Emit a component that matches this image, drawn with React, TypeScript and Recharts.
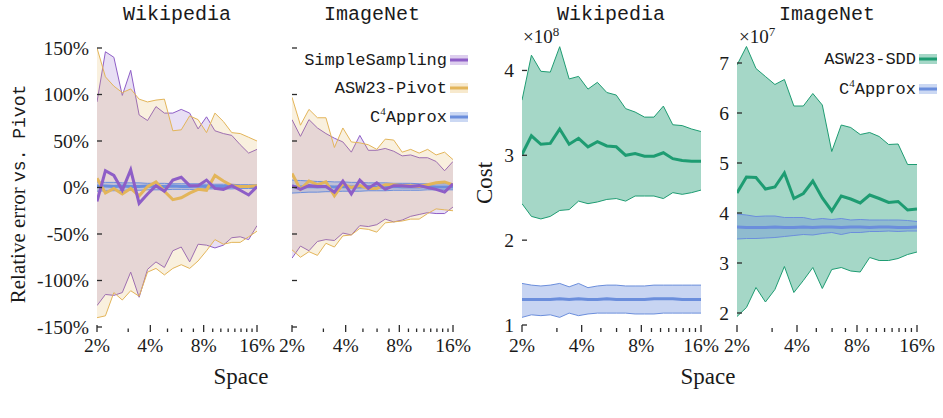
import React from 'react';
import { ComposedChart, Area, Line, XAxis, YAxis } from 'recharts';

// ---------- data ----------
const SPACE = [2.0, 2.231, 2.49, 2.778, 3.099, 3.458, 3.858, 4.304, 4.802, 5.358, 5.977, 6.669, 7.441, 8.302, 9.262, 10.334, 11.529, 12.863, 14.351, 16.0];
const X_TICKS = [2, 3, 4, 5, 6, 7, 8, 9, 10, 11, 12, 13, 14, 15, 16];
const X_LABELED = [2, 4, 8, 16];
const REL_TICKS = [-150, -100, -50, 0, 50, 100, 150];
const WIKI_COST_TICKS = [1, 2, 3, 4];
const IMNET_COST_TICKS = [2, 3, 4, 5, 6, 7];

// Wikipedia, relative error vs. Pivot (%)
const WIKI_SS_MEAN = [-15, 18, 13, -3, 19, -17, -7, 2, -4, 8, 11, 2, 2, 8, -1, -2, 2, -3, -8, 1];
const WIKI_SS_LO = [-127, -115, -116, -113, -91, -118, -88, -80, -86, -68, -64, -80, -61, -62, -65, -62, -54, -53, -56, -41];
const WIKI_SS_HI = [92, 146, 140, 99, 126, 78, 72, 87, 80, 80, 84, 80, 63, 76, 61, 58, 56, 46, 37, 41];
const WIKI_PV_MEAN = [10, -6, -1, -7, -1, -9, 1, 6, -4, -13, -11, -6, -2, -3, 13, 7, 2, 1, 1, 2];
const WIKI_PV_LO = [-140, -138, -113, -121, -111, -117, -91, -87, -94, -87, -83, -87, -79, -68, -56, -61, -59, -59, -53, -47];
const WIKI_PV_HI = [150, 119, 109, 102, 106, 95, 92, 94, 95, 61, 62, 77, 73, 59, 80, 71, 59, 58, 54, 50];
const WIKI_C4_MEAN = [1.5, 1.5, 1, 1.5, 1, 1, 1.5, 1, 1, 1.5, 1, 1, 1.5, 1, 1, 1, 1.5, 1, 1, 1];
const WIKI_C4_LO = [-4, -3.5, -3.5, -3, -3, -3, -2.5, -2.5, -2.5, -2, -2, -2, -2, -1.5, -1.5, -1.5, -1.5, -1, -1, -1];
const WIKI_C4_HI = [6, 5.5, 5.5, 5, 5, 5, 4.5, 4.5, 4.5, 4, 4, 4, 4, 3.5, 3.5, 3.5, 3.5, 3, 3, 3];

// ImageNet, relative error vs. Pivot (%)
const IMNET_SS_MEAN = [2, -2, 2, 1, 1, -5, 7, -7, 8, -1, 5, -2, 2, 2, 1, 2, 0, -2, -5, 4];
const IMNET_SS_LO = [-76, -63, -68, -58, -56, -57, -49, -51, -41, -42, -40, -34, -37, -35, -31, -29, -27, -28, -28, -21];
const IMNET_SS_HI = [73, 55, 73, 64, 58, 53, 49, 38, 56, 40, 40, 42, 39, 34, 35, 32, 32, 28, 18, 28];
const IMNET_PV_MEAN = [15, -2, 7, 3, 6, -9, 4, 0, 2, -1, -1, 3, 3, 2, 2, 1, 3, 5, 6, 3];
const IMNET_PV_LO = [-67, -75, -69, -73, -60, -64, -52, -51, -44, -45, -48, -38, -37, -36, -34, -34, -28, -23, -24, -25];
const IMNET_PV_HI = [97, 67, 84, 75, 75, 43, 64, 49, 48, 46, 41, 52, 51, 38, 41, 37, 41, 35, 38, 30];
const IMNET_C4_MEAN = [1, 0.5, 1, 0.5, 1, 0.5, 1, 0.5, 0.5, 1, 0.5, 0.5, 1, 0.5, 0.5, 0.5, 1, 0.5, 0.5, 0.5];
const IMNET_C4_LO = [-6, -5.5, -5, -5, -4.5, -4.5, -4, -4, -4, -3.5, -3.5, -3.5, -3, -3, -3, -3, -2.5, -2.5, -2.5, -2.5];
const IMNET_C4_HI = [8, 7.5, 7, 6.5, 6.5, 6, 6, 5.5, 5.5, 5, 5, 5, 4.5, 4.5, 4.5, 4, 4, 4, 4, 4];

// Wikipedia cost (x1e8)
const WIKI_SDD_MEAN = [3.01, 3.23, 3.13, 3.14, 3.31, 3.13, 3.2, 3.1, 3.16, 3.11, 3.1, 3.0, 3.02, 2.99, 2.99, 3.03, 2.96, 2.94, 2.93, 2.93];
const WIKI_SDD_LO = [2.43, 2.28, 2.25, 2.28, 2.35, 2.36, 2.46, 2.43, 2.45, 2.48, 2.49, 2.46, 2.52, 2.52, 2.52, 2.49, 2.56, 2.54, 2.56, 2.59];
const WIKI_SDD_HI = [3.65, 4.18, 3.99, 3.98, 4.28, 3.9, 3.93, 3.78, 3.86, 3.74, 3.71, 3.55, 3.51, 3.45, 3.45, 3.58, 3.36, 3.35, 3.31, 3.28];
const WIKI_C4C_MEAN = [1.3, 1.3, 1.3, 1.3, 1.31, 1.3, 1.31, 1.3, 1.3, 1.31, 1.3, 1.3, 1.3, 1.3, 1.31, 1.31, 1.31, 1.3, 1.3, 1.3];
const WIKI_C4C_LO = [1.09, 1.12, 1.11, 1.12, 1.09, 1.14, 1.11, 1.13, 1.14, 1.14, 1.14, 1.14, 1.13, 1.13, 1.13, 1.14, 1.14, 1.14, 1.14, 1.14];
const WIKI_C4C_HI = [1.49, 1.47, 1.46, 1.47, 1.49, 1.45, 1.49, 1.44, 1.46, 1.47, 1.47, 1.46, 1.46, 1.46, 1.47, 1.47, 1.47, 1.47, 1.47, 1.47];

// ImageNet cost (x1e7)
const IMNET_SDD_MEAN = [4.4, 4.72, 4.71, 4.48, 4.52, 4.8, 4.29, 4.39, 4.64, 4.3, 4.04, 4.34, 4.28, 4.2, 4.36, 4.29, 4.21, 4.23, 4.06, 4.08];
const IMNET_SDD_LO = [1.93, 2.11, 2.51, 2.22, 2.47, 2.93, 2.41, 2.65, 2.91, 2.49, 2.87, 2.91, 2.84, 2.82, 3.11, 3.05, 3.05, 3.09, 3.17, 3.22];
const IMNET_SDD_HI = [6.96, 7.33, 6.89, 6.73, 6.57, 6.67, 6.14, 6.14, 6.39, 6.16, 5.23, 5.76, 5.71, 5.57, 5.61, 5.53, 5.37, 5.38, 4.97, 4.97];
const IMNET_C4C_MEAN = [3.72, 3.71, 3.71, 3.71, 3.72, 3.71, 3.71, 3.72, 3.71, 3.72, 3.72, 3.71, 3.72, 3.72, 3.71, 3.72, 3.72, 3.71, 3.71, 3.72];
const IMNET_C4C_LO = [3.48, 3.49, 3.49, 3.5, 3.51, 3.53, 3.55, 3.57, 3.56, 3.59, 3.61, 3.57, 3.61, 3.61, 3.63, 3.63, 3.64, 3.63, 3.64, 3.64];
const IMNET_C4C_HI = [3.98, 3.96, 3.93, 3.94, 3.94, 3.91, 3.91, 3.91, 3.87, 3.89, 3.87, 3.89, 3.86, 3.87, 3.86, 3.86, 3.86, 3.86, 3.85, 3.83];

// ---------- styles ----------
const PURPLE = '#8e5ec7';
const GOLD = '#e3b55a';
const BLUE = '#6b8edc';
const GREEN = '#1e9c72';
const SERIF = "'Liberation Serif', 'DejaVu Serif', serif";
const MONO = "'Liberation Mono', 'DejaVu Sans Mono', monospace";
const TICK = '#2b2b2b';
const TXT = '#1a1a1a';

type Row = { [k: string]: any };

function relRows(ssM: number[], ssL: number[], ssH: number[], pvM: number[], pvL: number[], pvH: number[], c4M: number[], c4L: number[], c4H: number[]): Row[] {
  return SPACE.map((x, i) => ({
    x,
    ss: ssM[i], ssBand: [ssL[i], ssH[i]],
    pv: pvM[i], pvBand: [pvL[i], pvH[i]],
    c4: c4M[i], c4Band: [c4L[i], c4H[i]],
  }));
}

function costRows(sM: number[], sL: number[], sH: number[], cM: number[], cL: number[], cH: number[]): Row[] {
  return SPACE.map((x, i) => ({
    x,
    sdd: sM[i], sddBand: [sL[i], sH[i]],
    c4: cM[i], c4Band: [cL[i], cH[i]],
  }));
}

const wikiRel = relRows(WIKI_SS_MEAN, WIKI_SS_LO, WIKI_SS_HI, WIKI_PV_MEAN, WIKI_PV_LO, WIKI_PV_HI, WIKI_C4_MEAN, WIKI_C4_LO, WIKI_C4_HI);
const imnetRel = relRows(IMNET_SS_MEAN, IMNET_SS_LO, IMNET_SS_HI, IMNET_PV_MEAN, IMNET_PV_LO, IMNET_PV_HI, IMNET_C4_MEAN, IMNET_C4_LO, IMNET_C4_HI);
const wikiCost = costRows(WIKI_SDD_MEAN, WIKI_SDD_LO, WIKI_SDD_HI, WIKI_C4C_MEAN, WIKI_C4C_LO, WIKI_C4C_HI);
const imnetCost = costRows(IMNET_SDD_MEAN, IMNET_SDD_LO, IMNET_SDD_HI, IMNET_C4C_MEAN, IMNET_C4C_LO, IMNET_C4C_HI);

// ---------- ticks ----------
function makeXTick(majTop: number, minTop: number, bottom: number, labelDy: number) {
  return (props: any) => {
    const { x, y, payload } = props;
    const v = payload.value;
    const major = X_LABELED.includes(v);
    return (
      <g>
        <line x1={x} x2={x} y1={y + (major ? majTop : minTop)} y2={y + bottom} stroke={TICK} strokeWidth={1.3} />
        {major && (
          <text x={x} y={y + labelDy} textAnchor="middle" fontFamily={SERIF} fontSize={19.5} fill={TXT}>{`${v}%`}</text>
        )}
      </g>
    );
  };
}

function makeYTick(fmt: ((v: number) => string) | null) {
  return (props: any) => {
    const { x, y, payload } = props;
    return (
      <g>
        <line x1={x} x2={x + 5} y1={y} y2={y} stroke={TICK} strokeWidth={1.3} />
        {fmt && (
          <text x={x - 8} y={y + 6.5} textAnchor="end" fontFamily={SERIF} fontSize={19.5} fill={TXT}>{fmt(payload.value)}</text>
        )}
      </g>
    );
  };
}

const pct = (v: number) => `${v}%`;
const num = (v: number) => `${v}`;

function xAxisEl(tick: any) {
  return (
    <XAxis dataKey="x" type="number" scale="log" domain={[2, 16]} allowDataOverflow ticks={X_TICKS} interval={0}
      tick={tick} tickLine={false} axisLine={false} tickSize={0} tickMargin={0} height={30} />
  );
}

function RelPanel({ data, left, yWidth, width, mRight, labels }: any) {
  return (
    <div style={{ position: 'absolute', left, top: 0 }}>
      <ComposedChart width={width} height={418} data={data} margin={{ top: 48, right: mRight, bottom: 61, left: 0 }}>
        {xAxisEl(makeXTick(-2, 1.5, 5, 25))}
        <YAxis type="number" domain={[-150, 150]} ticks={REL_TICKS} interval={0} width={yWidth}
          tick={makeYTick(labels ? pct : null)} tickLine={false} axisLine={false} tickSize={0} tickMargin={0} />
        <Area type="linear" dataKey="ssBand" stroke={PURPLE} strokeWidth={1} fill={PURPLE} fillOpacity={0.2} isAnimationActive={false} dot={false} activeDot={false} />
        <Area type="linear" dataKey="pvBand" stroke={GOLD} strokeWidth={1} fill={GOLD} fillOpacity={0.2} isAnimationActive={false} dot={false} activeDot={false} />
        <Area type="linear" dataKey="c4Band" stroke={BLUE} strokeWidth={1} fill={BLUE} fillOpacity={0.3} isAnimationActive={false} dot={false} activeDot={false} />
        <Line type="linear" dataKey="c4" stroke={BLUE} strokeWidth={3} dot={false} activeDot={false} isAnimationActive={false} />
        <Line type="linear" dataKey="pv" stroke={GOLD} strokeWidth={3} dot={false} activeDot={false} isAnimationActive={false} />
        <Line type="linear" dataKey="ss" stroke={PURPLE} strokeWidth={3} dot={false} activeDot={false} isAnimationActive={false} />
      </ComposedChart>
    </div>
  );
}

function CostPanel({ data, left, yWidth, width, mRight, domain, ticks }: any) {
  return (
    <div style={{ position: 'absolute', left, top: 0 }}>
      <ComposedChart width={width} height={418} data={data} margin={{ top: 45, right: mRight, bottom: 63, left: 0 }}>
        {xAxisEl(makeXTick(0, 3, 7, 27))}
        <YAxis type="number" domain={domain} allowDataOverflow ticks={ticks} interval={0} width={yWidth}
          tick={makeYTick(num)} tickLine={false} axisLine={false} tickSize={0} tickMargin={0} />
        <Area type="linear" dataKey="sddBand" stroke={GREEN} strokeWidth={1} fill={GREEN} fillOpacity={0.4} isAnimationActive={false} dot={false} activeDot={false} />
        <Area type="linear" dataKey="c4Band" stroke={BLUE} strokeWidth={1} fill={BLUE} fillOpacity={0.38} isAnimationActive={false} dot={false} activeDot={false} />
        <Line type="linear" dataKey="sdd" stroke={GREEN} strokeWidth={3} dot={false} activeDot={false} isAnimationActive={false} />
        <Line type="linear" dataKey="c4" stroke={BLUE} strokeWidth={3} dot={false} activeDot={false} isAnimationActive={false} />
      </ComposedChart>
    </div>
  );
}

function LegendItem({ xRight, cy, color, alpha, children }: any) {
  return (
    <g>
      <text x={xRight} y={cy + 5} textAnchor="end" fontFamily={MONO} fontSize={17} fill={TXT}>{children}</text>
      <rect x={xRight + 3} y={cy - 5} width={18} height={10} fill={color} fillOpacity={alpha} />
      <line x1={xRight + 3} x2={xRight + 21} y1={cy} y2={cy} stroke={color} strokeWidth={3} />
    </g>
  );
}

function C4Label() {
  return (
    <>
      <tspan>C</tspan>
      <tspan dy={-7} fontSize={11} fontFamily={SERIF}>4</tspan>
      <tspan dy={7}>Approx</tspan>
    </>
  );
}

function Overlay() {
  return (
    <svg width={943} height={418} style={{ position: 'absolute', left: 0, top: 0, pointerEvents: 'none' }}>
      <text x={177} y={20} textAnchor="middle" fontFamily={MONO} fontSize={20} fill={TXT}>Wikipedia</text>
      <text x={372} y={20} textAnchor="middle" fontFamily={MONO} fontSize={20} fill={TXT}>ImageNet</text>
      <text x={611} y={20} textAnchor="middle" fontFamily={MONO} fontSize={20} fill={TXT}>Wikipedia</text>
      <text x={827} y={20} textAnchor="middle" fontFamily={MONO} fontSize={20} fill={TXT}>ImageNet</text>

      <text transform="rotate(-90 25 194)" x={25} y={194} textAnchor="middle" fill={TXT}>
        <tspan fontFamily={SERIF} fontSize={21}>Relative error </tspan>
        <tspan fontFamily={MONO} fontSize={18}>vs. Pivot</tspan>
      </text>
      <text transform="rotate(-90 492 183)" x={492} y={183} textAnchor="middle" fontFamily={SERIF} fontSize={23} fill={TXT}>Cost</text>

      <text x={241} y={384} textAnchor="middle" fontFamily={SERIF} fontSize={23} fill={TXT}>Space</text>
      <text x={708} y={384} textAnchor="middle" fontFamily={SERIF} fontSize={23} fill={TXT}>Space</text>

      <text x={523} y={43} fontFamily={SERIF} fontSize={19} fill={TXT}>×10<tspan dy={-7} fontSize={13}>8</tspan></text>
      <text x={739} y={43} fontFamily={SERIF} fontSize={19} fill={TXT}>×10<tspan dy={-7} fontSize={13}>7</tspan></text>

      <LegendItem xRight={447} cy={60} color={PURPLE} alpha={0.3}>SimpleSampling</LegendItem>
      <LegendItem xRight={447} cy={88} color={GOLD} alpha={0.3}>ASW23-Pivot</LegendItem>
      <LegendItem xRight={447} cy={117} color={BLUE} alpha={0.35}><C4Label /></LegendItem>

      <LegendItem xRight={916} cy={59} color={GREEN} alpha={0.4}>ASW23-SDD</LegendItem>
      <LegendItem xRight={916} cy={89} color={BLUE} alpha={0.35}><C4Label /></LegendItem>
    </svg>
  );
}

export default function App() {
  return (
    <div style={{ position: 'absolute', left: 0, top: 0, width: 943, height: 418, background: '#fff', overflow: 'hidden' }}>
      <RelPanel data={wikiRel} left={0} yWidth={97} width={300} mRight={43} labels={true} />
      <RelPanel data={imnetRel} left={200} yWidth={92} width={300} mRight={47} labels={false} />
      <CostPanel data={wikiCost} left={440} yWidth={82} width={300} mRight={39} domain={[1, 4.3]} ticks={WIKI_COST_TICKS} />
      <CostPanel data={imnetCost} left={640} yWidth={97} width={303} mRight={26} domain={[1.76, 7.36]} ticks={IMNET_COST_TICKS} />
      <Overlay />
    </div>
  );
}
